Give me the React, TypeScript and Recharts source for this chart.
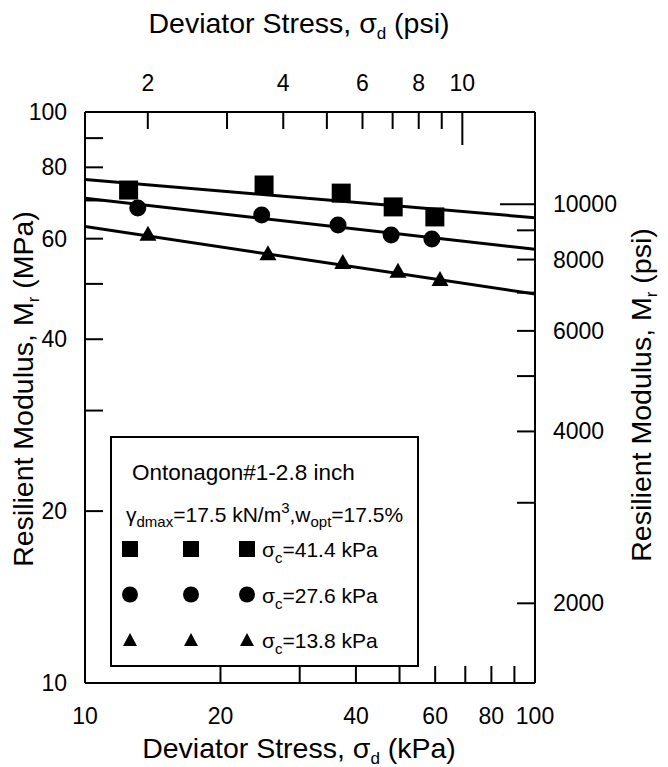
import React from "react";
import { ComposedChart, XAxis, YAxis, Line, Scatter, Legend, Label } from "recharts";

const FONT = '"Liberation Sans", Arial, sans-serif';
const KPA_PER_PSI = 6.89476;

// measured points, deviator stress (kPa) vs resilient modulus (MPa)
const stress414 = [12.5, 25.0, 37.1, 48.4, 59.9];
const modulus414 = [73.0, 74.5, 72.1, 68.2, 65.5];
const stress276 = [13.1, 24.7, 36.5, 47.9, 59.0];
const modulus276 = [67.9, 66.0, 63.4, 60.9, 59.9];
const stress138 = [13.8, 25.5, 37.4, 49.6, 61.5];
const modulus138 = [61.2, 56.6, 54.6, 52.7, 51.0];

// fitted power-law lines, ends at 10 and 100 kPa
const fitStress = [10, 100];
const fit414 = [76.2, 65.3];
const fit276 = [70.6, 57.5];
const fit138 = [63.0, 48.0];

const kpaTicks = [10, 20, 30, 40, 50, 60, 70, 80, 90, 100];
const kpaLabels = [10, 20, 40, 60, 80, 100];
const mpaTicks = [10, 20, 30, 40, 50, 60, 70, 80, 90, 100];
const mpaLabels = [10, 20, 40, 60, 80, 100];
const psiTicks = [2, 3, 4, 5, 6, 7, 8, 9, 10];
const psiLabels = [2, 4, 6, 8, 10];
const psiModTicks = [2000, 3000, 4000, 5000, 6000, 7000, 8000, 9000, 10000];
const psiModLabels = [2000, 4000, 6000, 8000, 10000];

const toPoints = (xs: number[], ys: number[]) => xs.map((x, i) => ({ x, y: ys[i] }));

const pts414 = toPoints(stress414, modulus414);
const pts276 = toPoints(stress276, modulus276);
const pts138 = toPoints(stress138, modulus138);
const line414 = toPoints(fitStress, fit414);
const line276 = toPoints(fitStress, fit276);
const line138 = toPoints(fitStress, fit138);

// psi axes share the kPa / MPa domains, ticks placed at converted values
const psiTicksKpa = psiTicks.map((p) => p * KPA_PER_PSI);
const psiModTicksMpa = psiModTicks.map((p) => (p * KPA_PER_PSI) / 1000);

const TICK = 17;
const tickText = { fontFamily: FONT, fontSize: 23, fill: "#000" };
const titleText = { fontFamily: FONT, fontSize: 28.5, fill: "#000" };

const BottomTick = (p: any) => {
  const v = p.payload.value;
  const edge = v === 10 || v === 100;
  return (
    <g>
      {!edge && <line x1={p.x} x2={p.x} y1={p.y} y2={p.y - TICK} stroke="#000" strokeWidth={2} />}
      {kpaLabels.includes(v) && (
        <text x={p.x} y={p.y + 41} textAnchor="middle" {...tickText}>{v}</text>
      )}
    </g>
  );
};

const TopTick = (p: any) => {
  const v = Math.round(p.payload.value / KPA_PER_PSI);
  const len = v === 10 ? 33 : TICK;
  return (
    <g>
      <line x1={p.x} x2={p.x} y1={p.y} y2={p.y + len} stroke="#000" strokeWidth={2} />
      {psiLabels.includes(v) && (
        <text x={p.x} y={p.y - 21} textAnchor="middle" {...tickText}>{v}</text>
      )}
    </g>
  );
};

const LeftTick = (p: any) => {
  const v = p.payload.value;
  const edge = v === 10 || v === 100;
  return (
    <g>
      {!edge && <line x1={p.x} x2={p.x + TICK + 1} y1={p.y} y2={p.y} stroke="#000" strokeWidth={2} />}
      {mpaLabels.includes(v) && (
        <text x={p.x - 18} y={p.y + 8} textAnchor="end" {...tickText}>{v}</text>
      )}
    </g>
  );
};

const RightTick = (p: any) => {
  const v = Math.round((p.payload.value * 1000) / KPA_PER_PSI);
  const len = v === 10000 ? 35 : TICK + 1;
  return (
    <g>
      <line x1={p.x} x2={p.x - len} y1={p.y} y2={p.y} stroke="#000" strokeWidth={2} />
      {psiModLabels.includes(v) && (
        <text x={p.x + 18} y={p.y + 8} textAnchor="start" {...tickText}>{v}</text>
      )}
    </g>
  );
};

const Square = (p: any) => <rect x={p.cx - 9.5} y={p.cy - 9.5} width={19} height={19} fill="#000" />;
const Dot = (p: any) => <circle cx={p.cx} cy={p.cy} r={8.5} fill="#000" />;
const Tri = (p: any) => (
  <polygon points={`${p.cx},${p.cy - 8} ${p.cx + 8.5},${p.cy + 7} ${p.cx - 8.5},${p.cy + 7}`} fill="#000" />
);

const legendRows = [
  { label: "41.4", kind: "square" },
  { label: "27.6", kind: "circle" },
  { label: "13.8", kind: "triangle" },
];

const LegendMark = ({ kind, x, y }: { kind: string; x: number; y: number }) => {
  if (kind === "square") return <rect x={x - 8} y={y - 8} width={16} height={16} fill="#000" />;
  if (kind === "circle") return <circle cx={x} cy={y} r={8} fill="#000" />;
  return <polygon points={`${x},${y - 7} ${x + 7},${y + 6} ${x - 7},${y + 6}`} fill="#000" />;
};

const renderLegend = () => {
  const t = { fontFamily: FONT, fontSize: 21, fill: "#000" };
  return (
    <svg width={310} height={232} style={{ display: "block" }}>
      <rect x={1} y={1} width={307} height={229} fill="#fff" stroke="#000" strokeWidth={2} />
      <text x={22} y={44} {...t} fontSize={22.5}>Ontonagon#1-2.8 inch</text>
      <text x={16} y={86} {...t}>
        γ<tspan fontSize={15} dy={5}>dmax</tspan>
        <tspan dy={-5}>=17.5 kN/m</tspan>
        <tspan fontSize={15} dy={-9}>3</tspan>
        <tspan dy={9}>,w</tspan>
        <tspan fontSize={15} dy={5}>opt</tspan>
        <tspan dy={-5}>=17.5%</tspan>
      </text>
      {legendRows.map((r, i) => {
        const cy = 113 + i * 45.5;
        return (
          <g key={r.label}>
            {[20, 81, 137].map((cx) => (
              <LegendMark key={cx} kind={r.kind} x={cx} y={cy} />
            ))}
            <text x={152} y={cy + 8} {...t}>
              σ<tspan fontSize={15} dy={6}>c</tspan>
              <tspan dy={-6}>={r.label} kPa</tspan>
            </text>
          </g>
        );
      })}
    </svg>
  );
};

const BottomTitle = () => (
  <text x={291} y={750} textAnchor="middle" {...titleText}>
    Deviator Stress,{"  "}σ<tspan fontSize={17} dy={6}>d</tspan>
    <tspan dy={-6}> (kPa)</tspan>
  </text>
);

const TopTitle = () => (
  <text x={291} y={25} textAnchor="middle" {...titleText}>
    Deviator Stress,{"  "}σ<tspan fontSize={17} dy={6}>d</tspan>
    <tspan dy={-6}> (psi)</tspan>
  </text>
);

const LeftTitle = () => (
  <text x={25} y={381} textAnchor="middle" transform="rotate(-90, 25, 381)" {...titleText}>
    Resilient Modulus, M<tspan fontSize={17} dy={6}>r</tspan>
    <tspan dy={-6}> (MPa)</tspan>
  </text>
);

const RightTitle = () => (
  <text x={643} y={387} textAnchor="middle" transform="rotate(-90, 643, 387)" {...titleText}>
    Resilient Modulus, M<tspan fontSize={17} dy={6}>r</tspan>
    <tspan dy={-6}> (psi)</tspan>
  </text>
);

export default function App() {
  const axisLine = { stroke: "#000", strokeWidth: 2 };
  return (
    <div style={{ width: 660, height: 759 }}>
      <ComposedChart width={660} height={759} margin={{ top: 0, right: 0, bottom: 0, left: 0 }}>
        <XAxis
          xAxisId="kpa"
          dataKey="x"
          type="number"
          scale="log"
          domain={[10, 100]}
          allowDataOverflow
          ticks={kpaTicks}
          interval={0}
          height={84}
          tickSize={0}
          tickMargin={0}
          tickLine={false}
          axisLine={axisLine}
          tick={BottomTick}
        >
          <Label content={BottomTitle} />
        </XAxis>
        <XAxis
          xAxisId="psi"
          dataKey="x"
          orientation="top"
          type="number"
          scale="log"
          domain={[10, 100]}
          allowDataOverflow
          ticks={psiTicksKpa}
          interval={0}
          height={104}
          tickSize={0}
          tickMargin={0}
          tickLine={false}
          axisLine={axisLine}
          tick={TopTick}
        >
          <Label content={TopTitle} />
        </XAxis>
        <YAxis
          yAxisId="mpa"
          dataKey="y"
          type="number"
          scale="log"
          domain={[10, 100]}
          allowDataOverflow
          ticks={mpaTicks}
          interval={0}
          width={77}
          tickSize={0}
          tickMargin={0}
          tickLine={false}
          axisLine={axisLine}
          tick={LeftTick}
        >
          <Label content={LeftTitle} />
        </YAxis>
        <YAxis
          yAxisId="psimod"
          dataKey="y"
          orientation="right"
          type="number"
          scale="log"
          domain={[10, 100]}
          allowDataOverflow
          ticks={psiModTicksMpa}
          interval={0}
          width={133}
          tickSize={0}
          tickMargin={0}
          tickLine={false}
          axisLine={axisLine}
          tick={RightTick}
        >
          <Label content={RightTitle} />
        </YAxis>

        <Line xAxisId="psi" yAxisId="psimod" data={line414} dataKey="y" stroke="#000" strokeWidth={3} dot={false} isAnimationActive={false} legendType="none" />
        <Line xAxisId="kpa" yAxisId="mpa" data={line276} dataKey="y" stroke="#000" strokeWidth={3} dot={false} isAnimationActive={false} legendType="none" />
        <Line xAxisId="kpa" yAxisId="mpa" data={line138} dataKey="y" stroke="#000" strokeWidth={3} dot={false} isAnimationActive={false} legendType="none" />

        <Scatter xAxisId="kpa" yAxisId="mpa" data={pts414} shape={Square} isAnimationActive={false} />
        <Scatter xAxisId="kpa" yAxisId="mpa" data={pts276} shape={Dot} isAnimationActive={false} />
        <Scatter xAxisId="kpa" yAxisId="mpa" data={pts138} shape={Tri} isAnimationActive={false} />

        <Legend
          layout="vertical"
          align="center"
          verticalAlign="middle"
          content={renderLegend}
          wrapperStyle={{ position: "absolute", left: 102, top: 428, width: 310, height: 232 }}
        />
      </ComposedChart>
    </div>
  );
}
